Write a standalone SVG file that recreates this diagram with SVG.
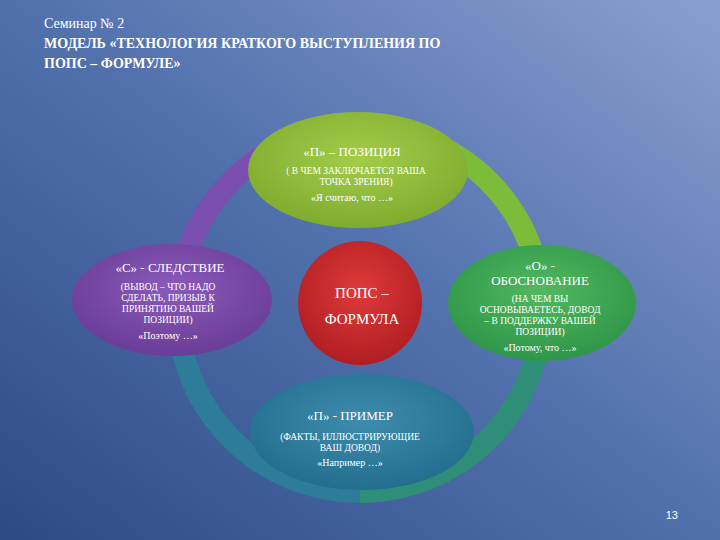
<svg xmlns="http://www.w3.org/2000/svg" width="720" height="540" viewBox="0 0 720 540">
<defs>
<linearGradient id="bg" x1="0" y1="1" x2="1" y2="0"><stop offset="0" stop-color="#2e4a86"/><stop offset="0.5" stop-color="#5070ac"/><stop offset="1" stop-color="#8c9ed0"/></linearGradient>
<radialGradient id="gTop" cx="0.5" cy="0.4" r="0.6"><stop offset="0" stop-color="#a4cc4a"/><stop offset="1" stop-color="#7fac2e"/></radialGradient>
<radialGradient id="gLeft" cx="0.5" cy="0.4" r="0.6"><stop offset="0" stop-color="#8a5ab8"/><stop offset="1" stop-color="#6a3d98"/></radialGradient>
<radialGradient id="gRight" cx="0.5" cy="0.4" r="0.6"><stop offset="0" stop-color="#52b860"/><stop offset="1" stop-color="#2e9648"/></radialGradient>
<radialGradient id="gBot" cx="0.5" cy="0.4" r="0.6"><stop offset="0" stop-color="#3e8cac"/><stop offset="1" stop-color="#236e8e"/></radialGradient>
<radialGradient id="gMid" cx="0.5" cy="0.4" r="0.6"><stop offset="0" stop-color="#e03a3a"/><stop offset="1" stop-color="#b01e22"/></radialGradient>
<style>
.t{font-family:'Liberation Serif',serif;fill:#fff;text-anchor:middle}
.h{font-size:13px}.s{font-size:9.5px}.q{font-size:10px}
</style>
</defs>
<rect width="720" height="540" fill="url(#bg)"/>
<text x="44" y="28" font-family="'Liberation Serif',serif" font-size="14" fill="#fff">Семинар № 2</text>
<text x="44" y="48" font-family="'Liberation Serif',serif" font-size="14" font-weight="bold" fill="#fff">МОДЕЛЬ  «ТЕХНОЛОГИЯ КРАТКОГО ВЫСТУПЛЕНИЯ ПО</text>
<text x="44" y="68" font-family="'Liberation Serif',serif" font-size="14" font-weight="bold" fill="#fff">ПОПС – ФОРМУЛЕ»</text>
<g id="connectors" fill="none" stroke-width="22">
<path d="M360,128 A182,182 0 0 0 178,310" stroke="#7a4fb0"/>
<path d="M178,310 A182,182 0 0 0 360,492" stroke="#2d7c9a"/>
<path d="M360,492 A182,182 0 0 0 542,310" stroke="#2f8e78"/>
<path d="M542,310 A182,182 0 0 0 360,128" stroke="#7cbc3a"/>
</g>
<g id="center"><circle cx="360" cy="303" r="62" fill="url(#gMid)"/>
<text class="t" x="362" y="298" font-size="15">ПОПС –</text><text class="t" x="362" y="324" font-size="15">ФОРМУЛА</text></g>
<g id="top"><ellipse cx="358" cy="170" rx="110" ry="58" fill="url(#gTop)"/>
<text class="t h" x="352" y="156">«П» – ПОЗИЦИЯ</text>
<text class="t s" x="356" y="174">( В ЧЕМ ЗАКЛЮЧАЕТСЯ ВАША</text>
<text class="t s" x="356" y="185">ТОЧКА ЗРЕНИЯ)</text>
<text class="t q" x="352" y="201">«Я считаю, что …»</text></g>
<g id="left"><ellipse cx="172" cy="300" rx="100" ry="56" fill="url(#gLeft)"/>
<text class="t h" x="170" y="272">«С» - СЛЕДСТВИЕ</text>
<text class="t s" x="168" y="290">(ВЫВОД – ЧТО НАДО</text>
<text class="t s" x="168" y="301">СДЕЛАТЬ, ПРИЗЫВ К</text>
<text class="t s" x="168" y="312">ПРИНЯТИЮ ВАШЕЙ</text>
<text class="t s" x="168" y="323">ПОЗИЦИИ)</text>
<text class="t q" x="168" y="339">«Поэтому …»</text></g>
<g id="right"><ellipse cx="542" cy="303" rx="94" ry="58" fill="url(#gRight)"/>
<text class="t h" x="540" y="270">«О» -</text>
<text class="t h" x="540" y="285">ОБОСНОВАНИЕ</text>
<text class="t s" x="540" y="302">(НА ЧЕМ ВЫ</text>
<text class="t s" x="540" y="313">ОСНОВЫВАЕТЕСЬ, ДОВОД</text>
<text class="t s" x="540" y="324">– В ПОДДЕРЖКУ ВАШЕЙ</text>
<text class="t s" x="540" y="335">ПОЗИЦИИ)</text>
<text class="t q" x="540" y="351">«Потому, что …»</text></g>
<g id="bottom"><ellipse cx="362" cy="432" rx="112" ry="58" fill="url(#gBot)"/>
<text class="t h" x="350" y="420">«П» - ПРИМЕР</text>
<text class="t s" x="350" y="440">(ФАКТЫ, ИЛЛЮСТРИРУЮЩИЕ</text>
<text class="t s" x="350" y="451">ВАШ ДОВОД)</text>
<text class="t q" x="350" y="466">«Например …»</text></g>
<text x="678" y="519" font-family="'Liberation Sans',sans-serif" font-size="11" fill="#fff" text-anchor="end">13</text>
</svg>
